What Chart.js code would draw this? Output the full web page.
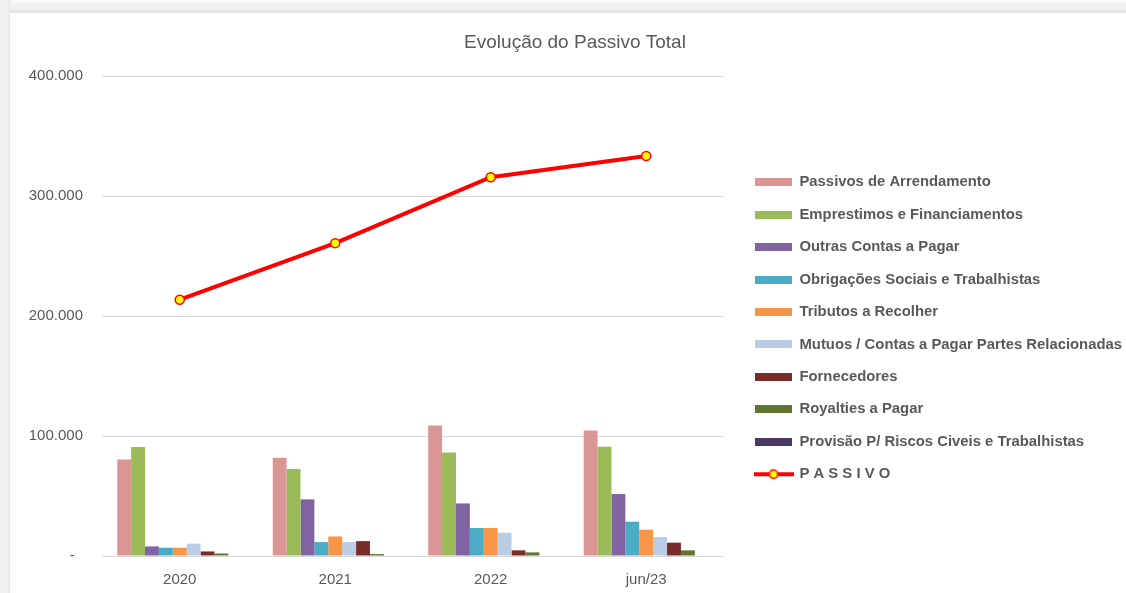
<!DOCTYPE html>
<html><head><meta charset="utf-8">
<script src="https://cdn.jsdelivr.net/npm/chart.js@4"></script>
<style>
html,body{margin:0;padding:0;width:1126px;height:593px;overflow:hidden;background:#fff;}
#frameTop{position:absolute;left:0;top:0;width:1126px;height:13px;background:linear-gradient(#f8f8f8 0,#f8f8f8 3px,#f0f0f0 3px,#f0f0f0 10px,#e6e6e6 10px,#e6e6e6 13px);}
#frameLeft{position:absolute;left:0;top:0;width:10px;height:593px;background:#f0f0f0;border-right:1px solid #e4e4e4;box-sizing:border-box;}
#wrap{position:absolute;left:10px;top:13px;width:1116px;height:580px;background:#fff;}
</style></head>
<body>
<div id="frameTop"></div><div id="frameLeft"></div>
<div id="wrap"><canvas id="c" width="1116" height="580"></canvas></div>
<script>
// ---- data ----
const categories = ['2020', '2021', '2022', 'jun/23'];
const passivosArrendamento = [80500, 81800, 108700, 104600];
const emprestimosFinanciamentos = [90900, 72500, 86300, 91000];
const outrasContasPagar = [8000, 47200, 43800, 51600];
const obrigacoesSociais = [6900, 11600, 23300, 28600];
const tributosRecolher = [6900, 16300, 23300, 21900];
const mutuosPartesRelacionadas = [10300, 11600, 19400, 15800];
const fornecedores = [3800, 12400, 4700, 11100];
const royaltiesPagar = [2100, 1600, 3000, 4700];
const provisaoRiscos = [0, 0, 0, 0];
const passivoTotal = [213600, 260700, 315600, 333400];
const yTickValues = [0, 100000, 200000, 300000, 400000];

const seriesNames = ['Passivos de Arrendamento', 'Emprestimos e Financiamentos', 'Outras Contas a Pagar',
  'Obrigações Sociais e Trabalhistas', 'Tributos a Recolher', 'Mutuos / Contas a Pagar Partes Relacionadas',
  'Fornecedores', 'Royalties a Pagar', 'Provisão P/ Riscos Civeis e Trabalhistas'];
const lineName = 'P A S S I V O';

// ---- styles ----
const barColors = ['#d99694', '#9bbb59', '#8064a2', '#4bacc6', '#f79646', '#b9cde5', '#772c2a', '#5f7530', '#4a3a60'];
const textColor = '#595959';
const gridColor = '#d9d9d9';
const FONT = "'Liberation Sans', Arial, sans-serif";

function fmt(v) {
  if (v === 0) return '-  ';
  return String(v).replace(/\B(?=(\d{3})+(?!\d))/g, '.');
}

function boxIcon(color) {
  const c = document.createElement('canvas');
  c.width = 37; c.height = 8;
  const g = c.getContext('2d');
  g.fillStyle = color; g.fillRect(0, 0, 37, 8);
  return c;
}
function lineIcon() {
  const c = document.createElement('canvas');
  c.width = 40; c.height = 12;
  const g = c.getContext('2d');
  g.strokeStyle = '#ff0000'; g.lineWidth = 4;
  g.beginPath(); g.moveTo(0, 6); g.lineTo(40, 6); g.stroke();
  g.beginPath(); g.arc(20, 6, 4.2, 0, Math.PI * 2);
  g.fillStyle = '#ffff00'; g.fill();
  g.lineWidth = 1.5; g.strokeStyle = '#ff0000'; g.stroke();
  return c;
}

const barSeries = [passivosArrendamento, emprestimosFinanciamentos, outrasContasPagar, obrigacoesSociais,
  tributosRecolher, mutuosPartesRelacionadas, fornecedores, royaltiesPagar, provisaoRiscos];

const datasets = barSeries.map((d, i) => ({
  type: 'bar',
  label: seriesNames[i],
  data: d,
  backgroundColor: barColors[i],
  borderWidth: 0,
  barPercentage: 1,
  categoryPercentage: 0.804,
  yAxisID: 'y'
}));
datasets.push({
  type: 'line',
  label: lineName,
  data: passivoTotal,
  borderColor: '#ff0000',
  borderWidth: 4,
  pointRadius: 4.5,
  pointBackgroundColor: '#ffff00',
  pointBorderColor: '#ff0000',
  pointBorderWidth: 1.5,
  tension: 0,
  yAxisID: 'y'
});

const icons = barColors.map(boxIcon).concat([lineIcon()]);

new Chart(document.getElementById('c'), {
  data: { labels: categories, datasets },
  options: {
    responsive: false,
    animation: false,
    layout: { padding: { left: 8, right: -6, top: 0, bottom: 0 } },
    plugins: {
      tooltip: { enabled: false },
      title: {
        display: true,
        text: 'Evolução do Passivo Total',
        color: textColor,
        font: { family: FONT, size: 19, weight: 'normal' },
        padding: { top: 18.4, bottom: 21.8 }
      },
      legend: {
        position: 'right',
        align: 'center',
        fullSize: false,
        maxWidth: 500,
        title: { display: true, text: '', font: { size: 10 }, padding: 6.25 },
        labels: {
          usePointStyle: true,
          pointStyleWidth: 37,
          padding: 17.59,
          color: textColor,
          font: { family: FONT, size: 14.85, weight: 'bold' },
          generateLabels(chart) {
            const items = Chart.defaults.plugins.legend.labels.generateLabels(chart);
            items.forEach((it, i) => { it.pointStyle = icons[i]; });
            return items;
          }
        }
      }
    },
    scales: {
      x: {
        type: 'category',
        grid: { display: false },
        border: { display: true, color: gridColor, width: 1 },
        ticks: { color: textColor, font: { family: FONT, size: 15 }, padding: 7 },
        afterFit(s) { s.height = 37; }
      },
      y: {
        type: 'linear',
        position: 'left',
        min: 0, max: 400000,
        afterBuildTicks(s) { s.ticks = yTickValues.map(v => ({ value: v })); },
        grid: { color: gridColor, lineWidth: 1, drawTicks: false },
        border: { display: false },
        ticks: { color: textColor, font: { family: FONT, size: 15 }, padding: 19, callback: v => fmt(v) },
        afterFit(s) { s.width = 84; }
      },
      y2: {
        type: 'linear',
        position: 'right',
        display: true,
        grid: { display: false, drawTicks: false },
        border: { display: false },
        ticks: { display: false },
        afterFit(s) { s.width = 13.5; }
      }
    }
  }
});
</script>
</body></html>
